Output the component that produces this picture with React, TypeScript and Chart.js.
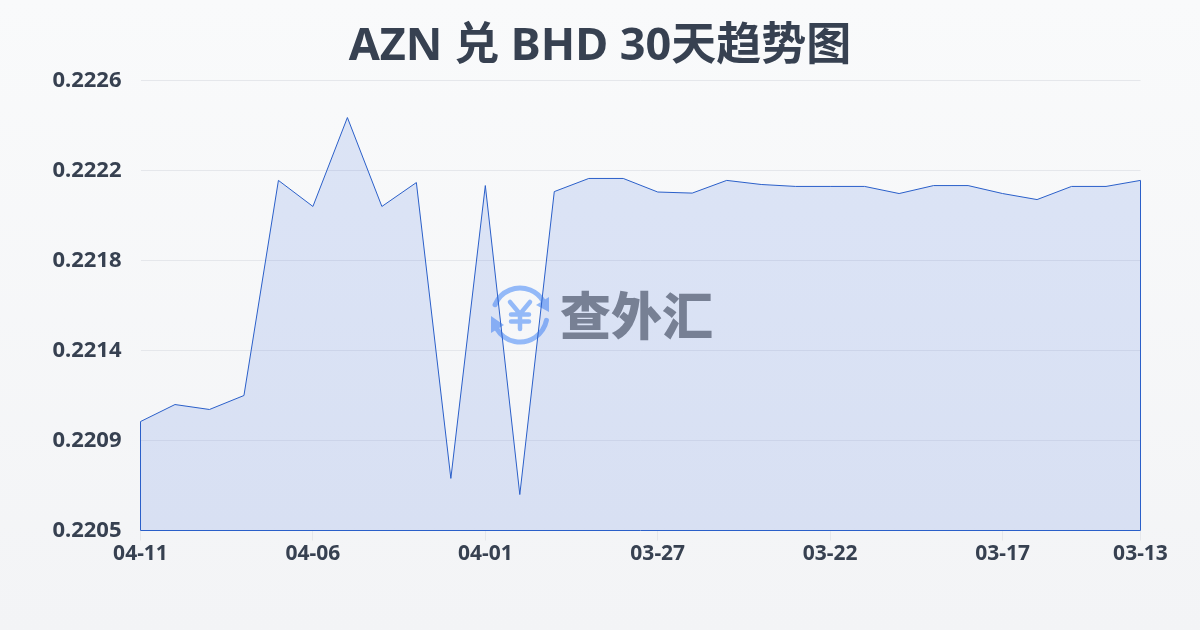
import React, { useEffect, useRef } from "react";
import { Chart, registerables } from "chart.js";

Chart.register(...registerables);

const titleText = "AZN 兑 BHD 30天趋势图";
const watermarkText = "查外汇";
const categories = [
  "04-11", "04-10", "04-09", "04-08", "04-07", "04-06", "04-05", "04-04", "04-03", "04-02",
  "04-01", "03-31", "03-30", "03-29", "03-28", "03-27", "03-26", "03-25", "03-24", "03-23",
  "03-22", "03-21", "03-20", "03-19", "03-18", "03-17", "03-16", "03-15", "03-14", "03-13",
];
const rates = [
  0.221026, 0.221105, 0.221082, 0.221147, 0.222146, 0.222025, 0.222438, 0.222025, 0.222136, 0.220762,
  0.222122, 0.220687, 0.222094, 0.222155, 0.222155, 0.222092, 0.222087, 0.222146, 0.222127, 0.222118,
  0.222118, 0.222118, 0.222085, 0.222122, 0.222122, 0.222085, 0.222057, 0.222118, 0.222118, 0.222146,
];
const shownLabels = ["04-11", "04-06", "04-01", "03-27", "03-22", "03-17", "03-13"];
const yMin = 0.22052;
const yMax = 0.22261;
const yTicks = [0.22052, 0.220938, 0.221356, 0.221774, 0.222192, 0.22261];

const FONT = '"Noto Sans", "Noto Sans CJK SC", sans-serif';
const TEXT = "#374151";
const LINE = "#2a5fc9";

const centerTitle = {
  id: "centerTitle",
  afterLayout(chart: any) {
    chart.titleBlock.left = 0;
    chart.titleBlock.right = chart.width;
  },
};

const watermark = {
  id: "watermark",
  beforeDatasetsDraw(chart: any) {
    const { ctx } = chart;
    ctx.save();
    const cx = 520, cy = 315, r = 27;
    ctx.strokeStyle = "#93b9f8";
    ctx.fillStyle = "#93b9f8";
    ctx.lineWidth = 5;
    ctx.lineCap = "round";
    ctx.beginPath();
    ctx.arc(cx, cy, r, -2.75, -0.55);
    ctx.stroke();
    ctx.beginPath();
    ctx.arc(cx, cy, r, 0.2, 2.6);
    ctx.stroke();
    ctx.beginPath();
    ctx.moveTo(549, 297); ctx.lineTo(549, 312); ctx.lineTo(536, 305); ctx.closePath();
    ctx.fill();
    ctx.beginPath();
    ctx.moveTo(491, 316); ctx.lineTo(504, 325); ctx.lineTo(491, 333); ctx.closePath();
    ctx.fill();
    ctx.lineWidth = 4.5;
    ctx.beginPath();
    ctx.moveTo(510, 302); ctx.lineTo(520, 314); ctx.lineTo(530, 302);
    ctx.moveTo(520, 314); ctx.lineTo(520, 329);
    ctx.moveTo(511, 314.5); ctx.lineTo(529, 314.5);
    ctx.moveTo(511, 321.5); ctx.lineTo(529, 321.5);
    ctx.stroke();
    ctx.fillStyle = "#828488";
    ctx.font = '900 51px "Noto Sans CJK SC", sans-serif';
    ctx.textAlign = "left";
    ctx.textBaseline = "middle";
    ctx.fillText(watermarkText, 560, 316);
    ctx.restore();
  },
};

const areaOutline = {
  id: "areaOutline",
  afterDatasetsDraw(chart: any) {
    const { ctx, scales } = chart;
    const x = scales.x, y = scales.y;
    const base = y.bottom;
    const x0 = x.getPixelForValue(0);
    const x1 = x.getPixelForValue(rates.length - 1);
    ctx.save();
    ctx.strokeStyle = LINE;
    ctx.lineWidth = 1;
    ctx.beginPath();
    ctx.moveTo(x0, y.getPixelForValue(rates[0]));
    ctx.lineTo(x0, base);
    ctx.lineTo(x1, base);
    ctx.lineTo(x1, y.getPixelForValue(rates[rates.length - 1]));
    ctx.stroke();
    ctx.restore();
  },
};

export default function App() {
  const ref = useRef<HTMLCanvasElement>(null);
  useEffect(() => {
    document.body.style.margin = "0";
    const chart = new Chart(ref.current!, {
      type: "line",
      data: {
        labels: categories,
        datasets: [
          {
            data: rates,
            borderColor: LINE,
            borderWidth: 1,
            backgroundColor: "rgba(59,110,220,0.15)",
            fill: "start",
            pointRadius: 0,
            tension: 0,
          },
        ],
      },
      options: {
        responsive: false,
        animation: false,
        layout: { padding: { right: 59.5 } },
        plugins: {
          legend: { display: false },
          tooltip: { enabled: false },
          title: {
            display: true,
            text: titleText,
            color: TEXT,
            font: { family: FONT, size: 45, weight: "bold", lineHeight: 1.2 },
            padding: { top: 20, bottom: 6.5 },
          },
        },
        scales: {
          x: {
            type: "category",
            offset: false,
            grid: { display: true, drawOnChartArea: false, drawTicks: true, tickLength: 10, color: "#e5e7eb" },
            border: { display: false },
            afterBuildTicks(axis: any) {
              axis.ticks = axis.ticks.filter((t: any) => shownLabels.includes(categories[t.value]));
            },
            afterFit(axis: any) {
              axis.height = 99.5;
            },
            ticks: {
              autoSkip: false,
              maxRotation: 0,
              color: TEXT,
              padding: 1,
              font: { family: FONT, size: 21, weight: "bold" },
            },
          },
          y: {
            min: yMin,
            max: yMax,
            afterBuildTicks(axis: any) {
              axis.ticks = yTicks.map((value) => ({ value }));
            },
            afterFit(axis: any) {
              axis.width = 140.5;
            },
            grid: { color: "#e5e7eb", lineWidth: 1, drawTicks: false },
            border: { display: false },
            ticks: {
              color: TEXT,
              padding: 19,
              font: { family: FONT, size: 22, weight: "bold" },
              callback: (v: any) => Number(v).toFixed(4),
            },
          },
        },
      },
      plugins: [centerTitle, watermark, areaOutline],
    });
    return () => chart.destroy();
  }, []);
  return (
    <div style={{ width: 1200, height: 630, background: "linear-gradient(180deg,#f9fafb 0%,#f3f4f6 100%)" }}>
      <canvas ref={ref} width={1200} height={630} style={{ display: "block" }} />
    </div>
  );
}
